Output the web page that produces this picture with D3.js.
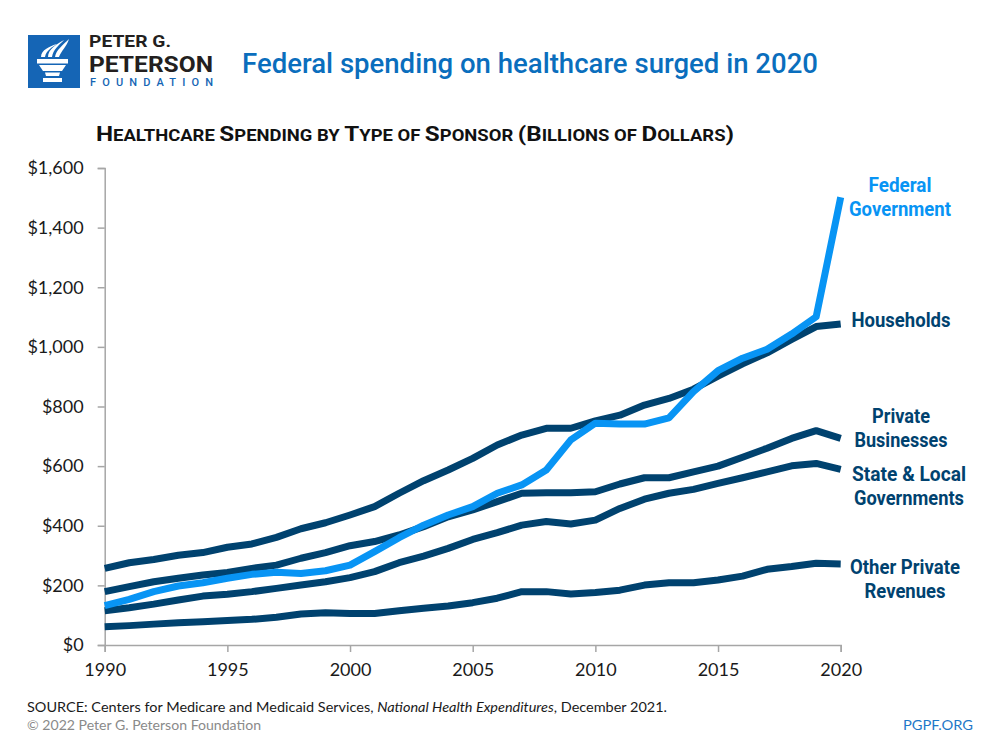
<!DOCTYPE html>
<html>
<head>
<meta charset="utf-8">
<script src="https://cdn.jsdelivr.net/npm/d3@7"></script>
<style>
  html, body { margin: 0; padding: 0; background: #fff; }
  svg { display: block; }
</style>
</head>
<body>
<svg id="chart" width="1000" height="750"></svg>
<script>
// ---- DATA ----
const years = d3.range(1990, 2021);
const federal = [132,153,179,198,209,224,237,244,240,249,268,313,360,402,436,464,509,537,587,688,744,741,741,762,850,920,962,992,1043,1101,1502];
const households = [257,276,287,301,310,328,339,361,390,410,436,464,509,551,587,626,671,704,727,727,752,771,805,827,858,902,943,980,1025,1068,1077];
const privateBusinesses = [179,196,212,224,235,243,257,268,291,310,333,347,369,397,430,453,481,509,511,511,514,540,561,561,581,600,630,660,693,719,693];
const stateLocal = [115,125,137,151,164,170,179,190,201,212,226,246,276,298,324,354,377,402,414,406,419,458,489,509,522,542,561,581,601,609,589];
const otherPrivate = [61,65,70,75,78,82,86,93,104,108,106,106,115,123,131,142,157,179,179,171,176,184,201,209,209,218,231,254,263,274,272];
const yTicks = [0,200,400,600,800,1000,1200,1400,1600];
const xTicks = [1990,1995,2000,2005,2010,2015,2020];

const series = [
  {name: "otherPrivate", values: otherPrivate, color: "#00426f", label: ["Other Private","Revenues"]},
  {name: "stateLocal", values: stateLocal, color: "#00426f", label: ["State & Local","Governments"]},
  {name: "privateBusinesses", values: privateBusinesses, color: "#00426f", label: ["Private","Businesses"]},
  {name: "households", values: households, color: "#00426f", label: ["Households"]},
  {name: "federal", values: federal, color: "#0894f4", label: ["Federal","Government"]}
];

const svg = d3.select("#chart");
const x = d3.scaleLinear().domain([1990, 2020]).range([104.7, 840.7]);
const y = d3.scaleLinear().domain([0, 1600]).range([645, 168]);

// ---- Logo ----
const logo = svg.append("g");
logo.append("rect").attr("x", 28).attr("y", 35).attr("width", 52).attr("height", 53).attr("fill", "#1565b5");
const torch = logo.append("g").attr("fill", "#fff");
torch.append("path").attr("d", "M37,59 L68,59 L68,63.5 L37,63.5 Z");
torch.append("path").attr("d", "M39,65 L66,65 L62,71 L43,71 Z");
torch.append("path").attr("d", "M45,72.5 L60,72.5 L59,76 L46,76 Z");
torch.append("path").attr("d", "M43,78 L62,78 L62,82 L43,82 Z");
torch.append("path").attr("d", "M41,57 C41,50 50,46 57,44 C52,47 46,51 45,57 Z");
torch.append("path").attr("d", "M48,57 C48,49 57,44 64,40 C59,45 53,50 52,57 Z");
torch.append("path").attr("d", "M55,57 C56,50 63,45 69,39 C67,46 61,51 59,57 Z");
logo.append("text").attr("x", 89).attr("y", 47).attr("font-family", "Roboto, sans-serif").attr("font-weight", 700)
  .attr("font-size", 17).attr("fill", "#231f20").attr("textLength", 82).attr("lengthAdjust", "spacingAndGlyphs").text("PETER G.");
logo.append("text").attr("x", 89).attr("y", 71.5).attr("font-family", "Roboto, sans-serif").attr("font-weight", 700)
  .attr("font-size", 21.5).attr("fill", "#231f20").attr("textLength", 124).attr("lengthAdjust", "spacingAndGlyphs").text("PETERSON");
logo.append("text").attr("x", 90).attr("y", 85.5).attr("font-family", "Roboto, sans-serif").attr("font-weight", 500)
  .attr("font-size", 11).attr("fill", "#1565b5").attr("textLength", 123).attr("lengthAdjust", "spacing").text("FOUNDATION");

// ---- Title ----
svg.append("text").attr("x", 242).attr("y", 73).attr("font-family", "Roboto, sans-serif").attr("font-weight", 500)
  .attr("font-size", 28).attr("fill", "#0a6ebd").attr("textLength", 576).attr("lengthAdjust", "spacingAndGlyphs")
  .text("Federal spending on healthcare surged in 2020");

// ---- Subtitle (small caps) ----
const subWords = "Healthcare Spending by Type of Sponsor (Billions of Dollars)";
const sub = svg.append("text").attr("x", 96).attr("y", 141).attr("font-family", "Roboto, sans-serif").attr("font-weight", 700)
  .attr("fill", "#111").attr("textLength", 638).attr("lengthAdjust", "spacingAndGlyphs");
let runs = [];
for (const ch of subWords) {
  const big = (ch !== ch.toLowerCase()) || ch === "(" || ch === ")";
  const last = runs[runs.length - 1];
  if (last && last.big === big) last.t += ch; else runs.push({big, t: ch});
}
runs.forEach(r => sub.append("tspan").attr("font-size", r.big ? 21 : 16).text(r.t.toUpperCase()));

// ---- Axes ----
const gy = svg.append("g").attr("transform", "translate(104.7,0)")
  .call(d3.axisLeft(y).tickValues(yTicks).tickSize(7).tickPadding(14).tickFormat(d => "$" + d3.format(",")(d)));
const gx = svg.append("g").attr("transform", "translate(0,645)")
  .call(d3.axisBottom(x).tickValues(xTicks).tickSize(7).tickPadding(8).tickFormat(d3.format("d")));
[gy, gx].forEach(g => {
  g.select(".domain").attr("stroke", "#a6a6a6").attr("stroke-width", 1.5);
  g.selectAll(".tick line").attr("stroke", "#a6a6a6").attr("stroke-width", 1.5);
  g.selectAll(".tick text").attr("font-family", "Lato, 'Noto Sans', sans-serif").attr("font-size", 18).attr("fill", "#1a1a1a");
});
gx.selectAll(".tick text").attr("dy", "0.9em");

// ---- Lines ----
const line = d3.line().x((d, i) => x(years[i])).y(d => y(d)).curve(d3.curveLinear);
svg.append("g").selectAll("path").data(series).join("path")
  .attr("d", d => line(d.values))
  .attr("fill", "none").attr("stroke", d => d.color).attr("stroke-width", 7)
  .attr("stroke-linejoin", "round").attr("stroke-linecap", "butt");

// ---- Labels ----
const labelPos = {
  federal: {cx: 900, y: 192, w: [63, 102]},
  households: {cx: 901, y: 327, w: [99]},
  privateBusinesses: {cx: 901, y: 423, w: [58, 93]},
  stateLocal: {cx: 909, y: 481, w: [114, 110]},
  otherPrivate: {cx: 905, y: 574, w: [110, 81]}
};
series.forEach(s => {
  const p = labelPos[s.name];
  s.label.forEach((t, i) => {
    svg.append("text").attr("x", p.cx).attr("y", p.y + i * 24).attr("text-anchor", "middle")
      .attr("font-family", "Roboto, sans-serif").attr("font-weight", 700).attr("font-size", 20.5)
      .attr("fill", s.color).attr("textLength", p.w[i]).attr("lengthAdjust", "spacingAndGlyphs").text(t);
  });
});

// ---- Footer ----
const src = svg.append("text").attr("x", 27).attr("y", 712).attr("font-family", "Lato, 'Noto Sans', sans-serif")
  .attr("font-size", 14).attr("fill", "#1a1a1a").attr("textLength", 640).attr("lengthAdjust", "spacingAndGlyphs");
src.append("tspan").text("SOURCE: Centers for Medicare and Medicaid Services, ");
src.append("tspan").attr("font-style", "italic").text("National Health Expenditures");
src.append("tspan").text(", December 2021.");
svg.append("text").attr("x", 27).attr("y", 730).attr("font-family", "Lato, 'Noto Sans', sans-serif")
  .attr("font-size", 14).attr("fill", "#8a8a8a").attr("textLength", 234).attr("lengthAdjust", "spacingAndGlyphs")
  .text("© 2022 Peter G. Peterson Foundation");
svg.append("text").attr("x", 973).attr("y", 730).attr("text-anchor", "end").attr("font-family", "Lato, 'Noto Sans', sans-serif")
  .attr("font-size", 14).attr("fill", "#1f78c8").attr("textLength", 70).attr("lengthAdjust", "spacingAndGlyphs")
  .text("PGPF.ORG");
</script>
</body>
</html>
